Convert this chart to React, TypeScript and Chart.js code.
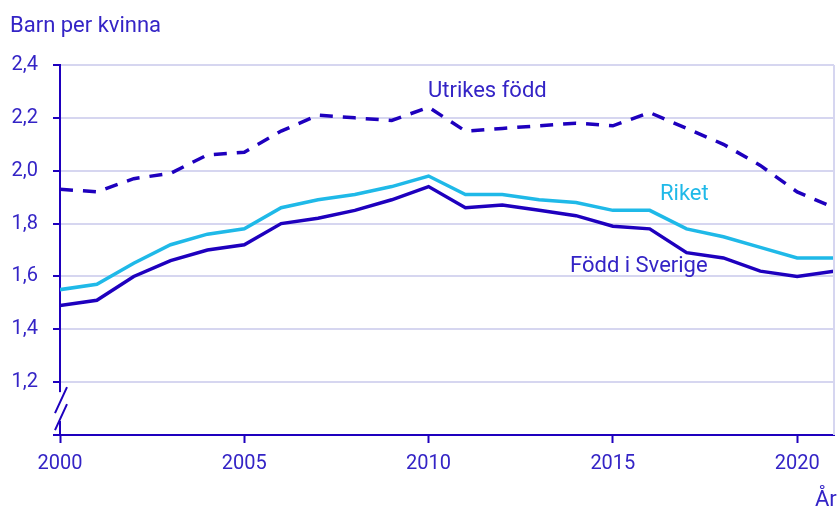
import React, { useEffect, useRef } from "react";
import { Chart, registerables } from "chart.js";

Chart.register(...registerables);

const years = [2000, 2001, 2002, 2003, 2004, 2005, 2006, 2007, 2008, 2009, 2010, 2011, 2012, 2013, 2014, 2015, 2016, 2017, 2018, 2019, 2020, 2021];
const utrikesFodd = [1.93, 1.92, 1.97, 1.99, 2.06, 2.07, 2.15, 2.21, 2.2, 2.19, 2.24, 2.15, 2.16, 2.17, 2.18, 2.17, 2.22, 2.16, 2.1, 2.02, 1.92, 1.86];
const riket = [1.55, 1.57, 1.65, 1.72, 1.76, 1.78, 1.86, 1.89, 1.91, 1.94, 1.98, 1.91, 1.91, 1.89, 1.88, 1.85, 1.85, 1.78, 1.75, 1.71, 1.67, 1.67];
const foddISverige = [1.49, 1.51, 1.6, 1.66, 1.7, 1.72, 1.8, 1.82, 1.85, 1.89, 1.94, 1.86, 1.87, 1.85, 1.83, 1.79, 1.78, 1.69, 1.67, 1.62, 1.6, 1.62];
const xTicks = [2000, 2005, 2010, 2015, 2020];

const DARK = "#1e00be";
const LIGHT = "#1fb9e8";
const TEXT = "#3424c6";
const GRID = "#d6d6f0";
const FONT = "Roboto, 'Noto Sans', sans-serif";

const decor = {
  id: "decor",
  afterDraw(chart: any) {
    const ctx = chart.ctx;
    const area = chart.chartArea;
    const y = chart.scales.y;
    ctx.save();
    // right border
    ctx.strokeStyle = GRID;
    ctx.lineWidth = 2;
    ctx.beginPath();
    ctx.moveTo(area.right, area.top);
    ctx.lineTo(area.right, area.bottom);
    ctx.stroke();
    // axis break
    const y12 = y.getPixelForValue(1.2);
    const y10 = y.getPixelForValue(1.0);
    ctx.fillStyle = "#ffffff";
    ctx.fillRect(area.left - 4, y12 + 10, 8, (y10 - y12) - 24);
    ctx.strokeStyle = DARK;
    ctx.lineWidth = 2;
    ctx.beginPath();
    ctx.moveTo(area.left - 5, y12 + 31);
    ctx.lineTo(area.left + 7, y12 + 5);
    ctx.moveTo(area.left - 5, y12 + 48);
    ctx.lineTo(area.left + 7, y12 + 22);
    ctx.stroke();
    // texts
    ctx.font = "22px " + FONT;
    ctx.textBaseline = "alphabetic";
    ctx.textAlign = "left";
    ctx.fillStyle = TEXT;
    ctx.fillText("Barn per kvinna", 10, 32);
    ctx.fillText("Utrikes född", 428, 97);
    ctx.fillText("Född i Sverige", 570, 272);
    ctx.fillText("År", 815, 506);
    ctx.fillStyle = LIGHT;
    ctx.fillText("Riket", 660, 200);
    ctx.restore();
  },
};

export default function App() {
  const ref = useRef<HTMLCanvasElement | null>(null);
  useEffect(() => {
    document.body.style.margin = "0";
    const canvas = ref.current!;
    const chart = new Chart(canvas, {
      type: "line",
      data: {
        datasets: [
          {
            label: "Utrikes född",
            data: years.map((x, i) => ({ x, y: utrikesFodd[i] })),
            borderColor: DARK,
            borderWidth: 3.5,
            borderDash: [13, 10],
            pointRadius: 0,
            tension: 0,
          },
          {
            label: "Riket",
            data: years.map((x, i) => ({ x, y: riket[i] })),
            borderColor: LIGHT,
            borderWidth: 3.5,
            pointRadius: 0,
            tension: 0,
          },
          {
            label: "Född i Sverige",
            data: years.map((x, i) => ({ x, y: foddISverige[i] })),
            borderColor: DARK,
            borderWidth: 3.5,
            pointRadius: 0,
            tension: 0,
          },
        ],
      },
      options: {
        animation: false,
        responsive: false,
        maintainAspectRatio: false,
        layout: { padding: { top: 65, right: 3, left: 0, bottom: 0 } },
        plugins: { legend: { display: false }, tooltip: { enabled: false }, title: { display: false } },
        scales: {
          x: {
            type: "linear",
            min: 2000,
            max: 2021,
            afterBuildTicks: (s: any) => {
              s.ticks = xTicks.map((v) => ({ value: v }));
            },
            afterFit: (s: any) => {
              s.height = 73;
            },
            border: { color: DARK, width: 2 },
            grid: { drawOnChartArea: false, tickLength: 8, tickColor: DARK, tickWidth: 2 },
            ticks: {
              color: TEXT,
              font: { size: 20, family: FONT },
              padding: 9,
              maxRotation: 0,
              callback: (v: any) => String(v),
            },
          },
          y: {
            min: 1.0,
            max: 2.4,
            afterFit: (s: any) => {
              s.width = 60;
            },
            border: { color: DARK, width: 2 },
            grid: { color: GRID, lineWidth: 2, tickLength: 7, tickColor: DARK, tickWidth: 2 },
            ticks: {
              stepSize: 0.2,
              color: TEXT,
              font: { size: 20, family: FONT },
              padding: 15,
              callback: (v: any) => {
                const n = Math.round(Number(v) * 10) / 10;
                if (n < 1.1) return "";
                return n.toFixed(1).replace(".", ",");
              },
            },
          },
        },
      },
      plugins: [decor],
    });
    return () => chart.destroy();
  }, []);
  return (
    <div style={{ width: 837, height: 508, overflow: "hidden" }}>
      <canvas ref={ref} width={837} height={508} style={{ display: "block", width: 837, height: 508 }} />
    </div>
  );
}
